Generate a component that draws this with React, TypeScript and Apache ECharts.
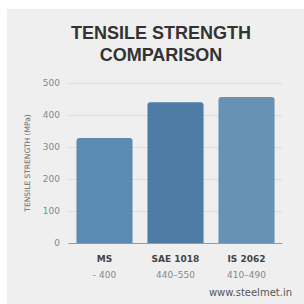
import React, { useEffect, useRef } from "react";
import * as echarts from "echarts";

const categories = ["MS", "SAE 1018", "IS 2062"];
const ranges = ["- 400", "440–550", "410–490"];
const values = [328, 440, 456];
const barColors = ["#5b8bb2", "#4e7ca4", "#6892b5"];
const yTicks = [0, 100, 200, 300, 400, 500];

export default function App() {
  const ref = useRef<HTMLDivElement>(null);
  useEffect(() => {
    if (!ref.current) return;
    const chart = echarts.init(ref.current, null, { renderer: "svg" });
    chart.setOption({
      animation: false,
      backgroundColor: "#ffffff",
      graphic: [
        { type: "rect", left: 7, top: 9, shape: { width: 297, height: 295 }, style: { fill: "#efefef" }, z: -10 },
        {
          type: "text",
          x: 161,
          y: 22,
          style: {
            text: "TENSILE STRENGTH\nCOMPARISON",
            font: "bold 18px 'Liberation Sans', Arial, sans-serif",
            fill: "#333333",
            textAlign: "center",
            lineHeight: 22,
          },
        },
        {
          type: "text",
          right: 12,
          top: 287,
          style: { text: "www.steelmet.in", font: "10px 'DejaVu Sans', sans-serif", fill: "#555555" },
        },
      ],
      grid: { left: 69, right: 22, top: 83, bottom: 61 },
      xAxis: {
        type: "category",
        data: categories.map((c, i) => c + "\n" + ranges[i]),
        axisLine: { lineStyle: { color: "#999999" } },
        axisTick: { show: false },
        axisLabel: {
          margin: 8,
          interval: 0,
          formatter: (v: string) => {
            const [a, b] = v.split("\n");
            return "{a|" + a + "}\n{b|" + b + "}";
          },
          rich: {
            a: { fontSize: 9, fontWeight: "bold", color: "#444", lineHeight: 16, fontFamily: "'DejaVu Sans', sans-serif" },
            b: { fontSize: 9, color: "#888", lineHeight: 16, fontFamily: "'DejaVu Sans', sans-serif" },
          },
        },
      },
      yAxis: {
        type: "value",
        min: yTicks[0],
        max: yTicks[yTicks.length - 1],
        interval: 100,
        name: "TENSILE STRENGTH (MPa)",
        nameLocation: "middle",
        nameGap: 38,
        nameTextStyle: { fontSize: 7.5, color: "#666", fontFamily: "'DejaVu Sans', sans-serif" },
        axisLine: { show: false },
        axisTick: { show: false },
        axisLabel: { fontSize: 9, color: "#888", margin: 9, fontFamily: "'DejaVu Sans', sans-serif" },
        splitLine: { lineStyle: { color: "#dddddd" } },
      },
      series: [
        {
          type: "bar",
          barWidth: "79%",
          data: values.map((v, i) => ({ value: v, itemStyle: { color: barColors[i] } })),
          itemStyle: { borderRadius: [3, 3, 0, 0] },
        },
      ],
    });
    return () => chart.dispose();
  }, []);
  return <div ref={ref} style={{ position: "absolute", left: 0, top: 0, width: 304, height: 304 }} />;
}
